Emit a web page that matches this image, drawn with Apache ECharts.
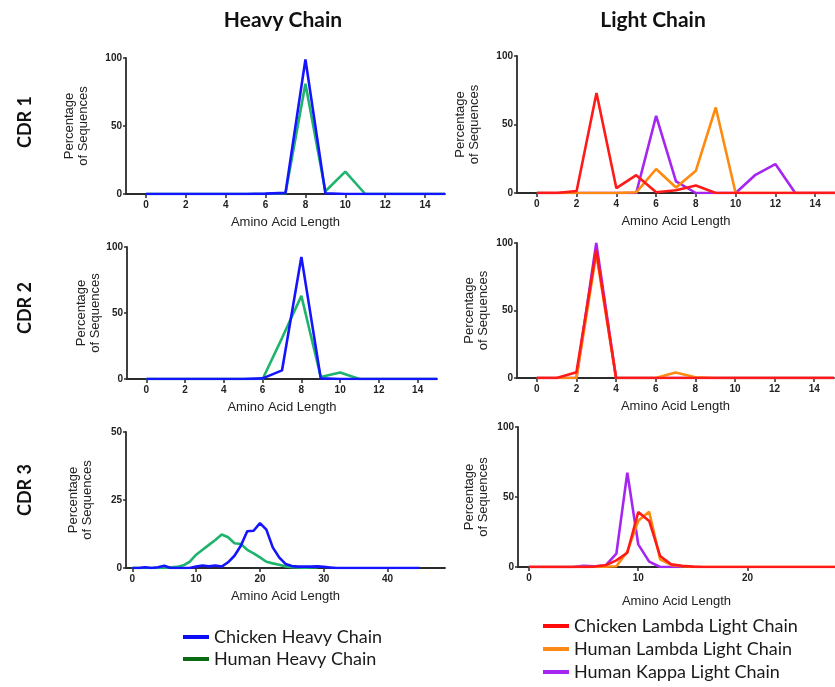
<!DOCTYPE html>
<html>
<head>
<meta charset="utf-8">
<script src="https://cdn.jsdelivr.net/npm/echarts@6/dist/echarts.min.js"></script>
<style>
  html, body { margin: 0; padding: 0; background: #ffffff; }
  #chart { width: 835px; height: 687px; }
</style>
</head>
<body>
<div id="chart"></div>
<script>
// CDR length distributions (percentage of sequences per amino-acid length)

// Length positions
const lengthsCdr12 = [0, 1, 2, 3, 4, 5, 6, 7, 8, 9, 10, 11, 12, 13, 14, 15];
const lengthsCdr3Heavy = [0, 1, 2, 3, 4, 5, 6, 7, 8, 9, 10, 11, 12, 13, 14, 15, 16, 17, 18, 19, 20, 21, 22, 23, 24, 25, 26, 27, 28, 29, 30, 31, 32, 33, 34, 35, 36, 37, 38, 39, 40, 41, 42, 43, 44, 45];
const lengthsCdr3Light = [0, 1, 2, 3, 4, 5, 6, 7, 8, 9, 10, 11, 12, 13, 14, 15, 16, 17, 18, 19, 20, 21, 22, 23, 24, 25, 26, 27, 28];

// CDR1
const cdr1ChickenHeavy = [0, 0, 0, 0, 0, 0, 0.3, 0.8, 99, 0.5, 0, 0, 0, 0, 0, 0];
const cdr1HumanHeavy   = [0, 0, 0, 0, 0, 0, 0, 0.5, 81, 2, 16.5, 0, 0, 0, 0, 0];
const cdr1ChickenLambda = [0, 0, 1.5, 73, 3.5, 13, 0.5, 2, 5.5, 0, 0, 0, 0, 0, 0, 0];
const cdr1HumanLambda   = [0, 0, 0, 0, 0, 0.5, 17.5, 4, 16.3, 62.4, 0, 0, 0, 0, 0, 0];
const cdr1HumanKappa    = [0, 0, 0, 0, 0, 0, 56.3, 8.5, 0, 0, 0, 13.3, 21.1, 0, 0, 0];

// CDR2
const cdr2ChickenHeavy = [0, 0, 0, 0, 0, 0, 0.5, 6.5, 92.5, 0.5, 0, 0, 0, 0, 0, 0];
const cdr2HumanHeavy   = [0, 0, 0, 0, 0, 0, 0, 31, 63, 1.5, 5, 0, 0, 0, 0, 0];
const cdr2ChickenLambda = [0, 0, 4.2, 95, 0, 0, 0, 0, 0, 0, 0, 0, 0, 0, 0, 0];
const cdr2HumanLambda   = [0, 0, 0, 92, 0, 0, 0, 4, 0.5, 0, 0, 0, 0, 0, 0, 0];
const cdr2HumanKappa    = [0, 0, 0, 100, 0, 0, 0, 0, 0, 0, 0, 0, 0, 0, 0, 0];

// CDR3
const cdr3ChickenHeavy = [0, 0, 0.3, 0, 0.3, 0.8, 0, 0, 0, 0, 0.5, 0.9, 0.6, 0.9, 0.5, 2.1, 4.5, 8.2, 13.5, 13.7, 16.5, 14.1, 7.6, 3.9, 1.5, 0.7, 0.5, 0.5, 0.5, 0.6, 0.4, 0.2, 0, 0, 0, 0, 0, 0, 0, 0, 0, 0, 0, 0, 0, 0];
const cdr3HumanHeavy   = [0, 0, 0, 0, 0, 0, 0.3, 0.4, 1, 2.3, 4.9, 6.7, 8.5, 10.3, 12.3, 11.3, 9.1, 8.8, 6.7, 5.4, 3.9, 2.3, 1.7, 1.2, 0.6, 0.3, 0.2, 0.1, 0.2, 0.3];
const cdr3ChickenLambda = [0, 0, 0, 0, 0, 0, 0.3, 1.2, 4.7, 10.2, 39.3, 32.9, 7.9, 2, 0.8, 0.3, 0, 0, 0, 0, 0, 0, 0, 0, 0, 0, 0, 0, 0];
const cdr3HumanLambda   = [0, 0, 0, 0, 0, 0, 0, 0.3, 0.5, 11, 33, 39.5, 5.5, 1.5, 0.5, 0, 0, 0, 0, 0, 0, 0, 0, 0, 0, 0, 0, 0, 0];
const cdr3HumanKappa    = [0, 0, 0, 0, 0, 0.8, 0.5, 1, 9.5, 67.4, 16.2, 3.8, 0, 0, 0];

// Tick labels
const ticksCdr12 = [0, 2, 4, 6, 8, 10, 12, 14];
const ticksCdr3Heavy = [0, 10, 20, 30, 40];
const ticksCdr3Light = [0, 10, 20];

const NAME_CH = 'Chicken Heavy Chain';
const NAME_HH = 'Human Heavy Chain';
const NAME_CL = 'Chicken Lambda Light Chain';
const NAME_HL = 'Human Lambda Light Chain';
const NAME_HK = 'Human Kappa Light Chain';

const COLORS = {};
COLORS[NAME_CH] = '#1414ff';
COLORS[NAME_HH] = '#1fb46e';
COLORS[NAME_CL] = '#ff1a1a';
COLORS[NAME_HL] = '#ff8a10';
COLORS[NAME_HK] = '#a526f0';

const AXIS_FONT = "'Liberation Sans', Arial, sans-serif";
const HEAD_FONT = "Lato, 'Open Sans', sans-serif";

function pairs(xs, ys) {
  return ys.map(function (y, i) { return [xs[i], y]; });
}

// Panel layout: grid box, axis ranges and the series drawn in each
const panels = [
  { box: { left: 126, top: 58, width: 319, height: 136 }, xMin: -1, xMax: 15, ticks: ticksCdr12, yMax: 100, yStep: 50, yGap: 36, xGap: 22,
    series: [[NAME_HH, lengthsCdr12, cdr1HumanHeavy], [NAME_CH, lengthsCdr12, cdr1ChickenHeavy]] },
  { box: { left: 517, top: 56, width: 320, height: 137 }, xMin: -1, xMax: 15, ticks: ticksCdr12, yMax: 100, yStep: 50, yGap: 36, xGap: 22,
    series: [[NAME_HK, lengthsCdr12, cdr1HumanKappa], [NAME_HL, lengthsCdr12, cdr1HumanLambda], [NAME_CL, lengthsCdr12, cdr1ChickenLambda]] },
  { box: { left: 127, top: 247, width: 310, height: 132 }, xMin: -1, xMax: 15, ticks: ticksCdr12, yMax: 100, yStep: 50, yGap: 25, xGap: 22,
    series: [[NAME_HH, lengthsCdr12, cdr2HumanHeavy], [NAME_CH, lengthsCdr12, cdr2ChickenHeavy]] },
  { box: { left: 517, top: 243, width: 317, height: 135 }, xMin: -1, xMax: 15, ticks: ticksCdr12, yMax: 100, yStep: 50, yGap: 27, xGap: 22,
    series: [[NAME_HK, lengthsCdr12, cdr2HumanKappa], [NAME_HL, lengthsCdr12, cdr2HumanLambda], [NAME_CL, lengthsCdr12, cdr2ChickenLambda]] },
  { box: { left: 126, top: 432, width: 319, height: 136 }, xMin: -1, xMax: 49, ticks: ticksCdr3Heavy, yMax: 50, yStep: 25, yGap: 32, xGap: 22,
    series: [[NAME_HH, lengthsCdr3Heavy, cdr3HumanHeavy], [NAME_CH, lengthsCdr3Heavy, cdr3ChickenHeavy]] },
  { box: { left: 518, top: 427, width: 317, height: 140 }, xMin: -1, xMax: 28, ticks: ticksCdr3Light, yMax: 100, yStep: 50, yGap: 28, xGap: 28,
    series: [[NAME_HK, lengthsCdr3Light, cdr3HumanKappa], [NAME_HL, lengthsCdr3Light, cdr3HumanLambda], [NAME_CL, lengthsCdr3Light, cdr3ChickenLambda]] }
];

const axisLine = { show: true, onZero: false, lineStyle: { color: '#2b2b2b', width: 1.8 } };

const grid = [], xAxis = [], yAxis = [], series = [];
panels.forEach(function (p, i) {
  grid.push(Object.assign({ containLabel: false }, p.box));
  xAxis.push({
    type: 'value', gridIndex: i, min: p.xMin, max: p.xMax,
    name: 'Amino Acid Length', nameLocation: 'middle', nameGap: p.xGap,
    nameTextStyle: { fontFamily: AXIS_FONT, fontSize: 13, color: '#222' },
    axisLine: axisLine,
    axisTick: { show: true, length: 4, customValues: p.ticks, lineStyle: { color: '#2b2b2b', width: 1.5 } },
    axisLabel: { customValues: p.ticks, fontFamily: AXIS_FONT, fontSize: 10, fontWeight: 'bold', color: '#222', margin: 6 },
    splitLine: { show: false }
  });
  yAxis.push({
    type: 'value', gridIndex: i, min: 0, max: p.yMax, interval: p.yStep,
    name: 'Percentage\nof Sequences', nameLocation: 'middle', nameGap: p.yGap, nameRotate: 90,
    nameTextStyle: { fontFamily: AXIS_FONT, fontSize: 13, lineHeight: 14, color: '#222' },
    axisLine: axisLine,
    axisTick: { show: true, length: 3, lineStyle: { color: '#2b2b2b', width: 1.5 } },
    axisLabel: { fontFamily: AXIS_FONT, fontSize: 10, fontWeight: 'bold', color: '#222', margin: 4 },
    splitLine: { show: false }
  });
  p.series.forEach(function (s) {
    series.push({
      type: 'line', name: s[0], xAxisIndex: i, yAxisIndex: i,
      data: pairs(s[1], s[2]),
      showSymbol: false, symbol: 'none', clip: true,
      lineStyle: { color: COLORS[s[0]], width: 2.6 },
      itemStyle: { color: COLORS[s[0]] },
      emphasis: { disabled: true }
    });
  });
});

const legendText = { fontFamily: HEAD_FONT, fontSize: 18, color: '#1a1a1a', lineHeight: 22 };

const option = {
  backgroundColor: '#ffffff',
  animation: false,
  grid: grid,
  xAxis: xAxis,
  yAxis: yAxis,
  series: series,
  legend: [
    {
      orient: 'vertical', left: 183, top: 626, padding: 0, itemWidth: 26, itemHeight: 4, itemGap: 0, icon: 'rect',
      textStyle: legendText, selectedMode: false,
      data: [
        { name: NAME_CH, itemStyle: { color: '#0c0cf5' } },
        { name: NAME_HH, itemStyle: { color: '#0b6b12' } }
      ]
    },
    {
      orient: 'vertical', left: 543, top: 615, padding: 0, itemWidth: 26, itemHeight: 4, itemGap: 1, icon: 'rect',
      textStyle: legendText, selectedMode: false,
      data: [
        { name: NAME_CL, itemStyle: { color: '#ff0a0a' } },
        { name: NAME_HL, itemStyle: { color: '#ff8a1a' } },
        { name: NAME_HK, itemStyle: { color: '#a526f0' } }
      ]
    }
  ],
  graphic: [
    { type: 'text', x: 283, y: 20, style: { text: 'Heavy Chain', font: "bold 21px " + HEAD_FONT, fill: '#111', align: 'center', verticalAlign: 'middle' } },
    { type: 'text', x: 653, y: 20, style: { text: 'Light Chain', font: "bold 21px " + HEAD_FONT, fill: '#111', align: 'center', verticalAlign: 'middle' } },
    { type: 'text', x: 25, y: 122, rotation: Math.PI / 2, style: { text: 'CDR 1', font: "bold 18px " + HEAD_FONT, fill: '#111', align: 'center', verticalAlign: 'middle' } },
    { type: 'text', x: 25, y: 308, rotation: Math.PI / 2, style: { text: 'CDR 2', font: "bold 18px " + HEAD_FONT, fill: '#111', align: 'center', verticalAlign: 'middle' } },
    { type: 'text', x: 25, y: 490, rotation: Math.PI / 2, style: { text: 'CDR 3', font: "bold 18px " + HEAD_FONT, fill: '#111', align: 'center', verticalAlign: 'middle' } }
  ]
};

const chart = echarts.init(document.getElementById('chart'), null, { renderer: 'canvas' });
chart.setOption(option);
</script>
</body>
</html>
